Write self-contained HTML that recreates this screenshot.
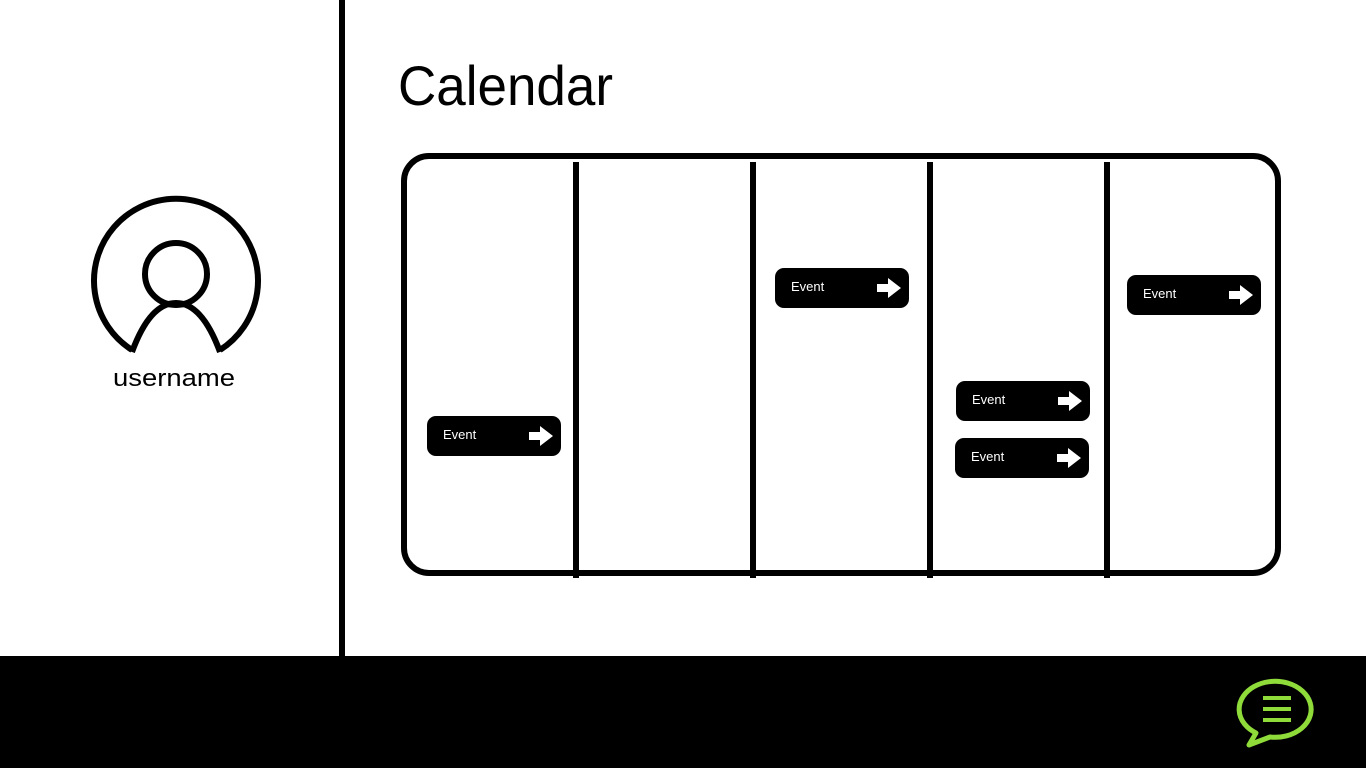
<!DOCTYPE html>
<html><head><meta charset="utf-8"><style>
html,body{margin:0;padding:0;background:#fff;width:1366px;height:768px;overflow:hidden}
svg{display:block}
text{font-family:"Liberation Sans",sans-serif}
</style></head><body>
<svg width="1366" height="768" viewBox="0 0 1366 768" xmlns="http://www.w3.org/2000/svg">
<rect x="0" y="0" width="1366" height="768" fill="#fff"/>
<rect x="339" y="0" width="6" height="656" fill="#000"/>
<rect x="0" y="656" width="1366" height="112" fill="#000"/>
<text x="398" y="105" font-size="56" textLength="215" lengthAdjust="spacingAndGlyphs">Calendar</text>
<!-- avatar -->
<path d="M132,350 A82,82 0 1 1 220,350" fill="none" stroke="#000" stroke-width="6"/>
<circle cx="176" cy="274" r="31" fill="none" stroke="#000" stroke-width="6"/>
<path d="M132,352 Q150,303 176,303 Q202,303 220,352" fill="none" stroke="#000" stroke-width="6"/>
<text x="174" y="386" font-size="24" text-anchor="middle" textLength="122" lengthAdjust="spacingAndGlyphs">username</text>
<!-- calendar -->
<rect x="404" y="156" width="874" height="417" rx="25" fill="none" stroke="#000" stroke-width="6"/>
<rect x="573" y="162" width="6" height="416" fill="#000"/>
<rect x="750" y="162" width="6" height="416" fill="#000"/>
<rect x="927" y="162" width="6" height="416" fill="#000"/>
<rect x="1104" y="162" width="6" height="416" fill="#000"/>
<defs>
<g id="ev">
<rect x="0" y="0" width="134" height="40" rx="9" fill="#000"/>
<text x="16" y="23" font-size="13" fill="#fff">Event</text>
<path d="M102,16 H113 V10 L126,20 L113,30 V24 H102 Z" fill="#fff"/>
</g>
</defs>
<use href="#ev" x="427" y="416"/>
<use href="#ev" x="775" y="268"/>
<use href="#ev" x="1127" y="275"/>
<use href="#ev" x="956" y="381"/>
<use href="#ev" x="955" y="438"/>
<!-- chat icon -->
<path d="M1256,733 A36,28 0 1 1 1270,737 L1249,745 Z" fill="none" stroke="#8fdb3a" stroke-width="5" stroke-linejoin="round"/>
<rect x="1263" y="696" width="28" height="4" fill="#8fdb3a"/>
<rect x="1263" y="707" width="28" height="4" fill="#8fdb3a"/>
<rect x="1263" y="718" width="28" height="4" fill="#8fdb3a"/>
</svg>
</body></html>
